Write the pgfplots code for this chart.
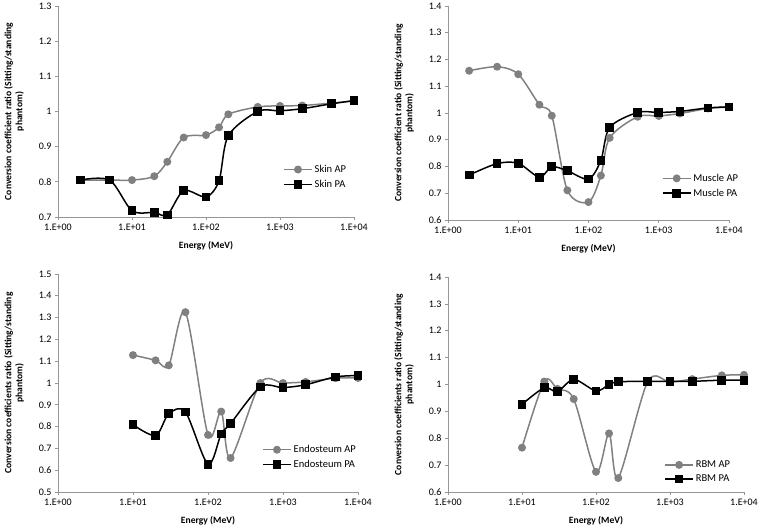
\documentclass[border=0pt]{standalone}
\usepackage{fontspec}
\setmainfont{Carlito}
\usepackage{pgfplots}
\pgfplotsset{compat=1.18}
\definecolor{apgray}{RGB}{128,128,128}
\definecolor{axgray}{RGB}{150,150,150}
\pgfplotsset{
 panel/.style={
  scale only axis, xmin=1, xmax=10000,
  axis x line=bottom, axis y line=left,
  axis line style={-, draw=axgray, line width=0.7pt},
  xtick={1,10,100,1000,10000},
  xticklabels={1.E+00,1.E+01,1.E+02,1.E+03,1.E+04},
  xminorticks=false, yminorticks=false,
  tick align=outside, major tick length=3pt,
  tick style={draw=axgray, line width=0.7pt},
  ticklabel style={font=\fontsize{10}{11}\selectfont},
  xlabel={Energy (MeV)},
  label style={font=\fontsize{9.6}{11}\selectfont\bfseries},
  ylabel style={align=center},
  ylabel shift=8pt,
  xlabel shift=4pt,
  legend style={draw=none, fill=none, font=\fontsize{10.5}{12}\selectfont,
    anchor=west, row sep=2pt, cells={anchor=west}},
  legend image code/.code={\draw[mark repeat=2,mark phase=2] plot coordinates {(0pt,0pt)(14pt,0pt)(28pt,0pt)};},
  clip=false,
 },
 ap/.style={color=apgray, line width=1.5pt, smooth, mark=*, mark size=3.2pt, mark options={solid, fill=apgray}},
 pa/.style={color=black, line width=1.5pt, smooth, mark=square*, mark size=3.6pt, mark options={solid}},
}
\begin{document}
\begin{tikzpicture}
\path[use as bounding box] (0pt,0pt) rectangle (759pt,531pt);
% Panel 1: Skin
\begin{semilogxaxis}[panel, at={(58pt,314pt)}, anchor=south west, width=296pt, height=211pt,
  ymin=0.7, ymax=1.3, ytick={0.7,0.8,0.9,1,1.1,1.2,1.3},
  yticklabels={0.7,0.8,0.9,1,1.1,1.2,1.3},
  ylabel={Conversion coefficient ratio (Sitting/standing\\phantom)},
  legend style={at={(0.75,0.19)}}]
\addplot[ap] coordinates {(2,0.805)(5,0.805)(10,0.805)(20,0.816)(30,0.857)(50,0.926)(100,0.933)(150,0.955)(200,0.992)(500,1.013)(1000,1.016)(2000,1.017)(5000,1.024)(10000,1.030)};
\addlegendentry{Skin AP}
\addplot[pa] coordinates {(2,0.805)(5,0.805)(10,0.718)(20,0.713)(30,0.706)(50,0.775)(100,0.757)(150,0.803)(200,0.931)(500,1.000)(1000,1.002)(2000,1.008)(5000,1.022)(10000,1.031)};
\addlegendentry{Skin PA}
\end{semilogxaxis}
% Panel 2: Muscle
\begin{semilogxaxis}[panel, at={(448pt,311pt)}, anchor=south west, width=281pt, height=214pt,
  ymin=0.6, ymax=1.4, ytick={0.6,0.7,0.8,0.9,1,1.1,1.2,1.3,1.4},
  yticklabels={0.6,0.7,0.8,0.9,1,1.1,1.2,1.3,1.4},
  ylabel={Conversion coefficient ratio (Sitting/standing\\phantom)},
  legend style={at={(0.75,0.16)}}]
\addplot[ap] coordinates {(2,1.158)(5,1.173)(10,1.145)(20,1.031)(30,0.990)(50,0.711)(100,0.667)(150,0.766)(200,0.907)(500,0.986)(1000,0.989)(2000,0.998)(5000,1.017)(10000,1.022)};
\addlegendentry{Muscle AP}
\addplot[pa] coordinates {(2,0.768)(5,0.811)(10,0.812)(20,0.760)(30,0.799)(50,0.784)(100,0.753)(150,0.823)(200,0.946)(500,1.002)(1000,1.002)(2000,1.006)(5000,1.019)(10000,1.023)};
\addlegendentry{Muscle PA}
\end{semilogxaxis}
% Panel 3: Endosteum
\begin{semilogxaxis}[panel, at={(58pt,39pt)}, anchor=south west, width=300pt, height=218pt,
  ymin=0.5, ymax=1.5, ytick={0.5,0.6,0.7,0.8,0.9,1,1.1,1.2,1.3,1.4,1.5},
  yticklabels={0.5,0.6,0.7,0.8,0.9,1,1.1,1.2,1.3,1.4,1.5},
  ylabel={Conversion coefficients ratio (Sitting/standing\\phantom)},
  legend style={at={(0.67,0.16)}}]
\addplot[ap] coordinates {(10,1.128)(20,1.104)(30,1.081)(50,1.325)(100,0.762)(150,0.869)(200,0.656)(500,1.000)(1000,1.000)(2000,1.005)(5000,1.022)(10000,1.023)};
\addlegendentry{Endosteum AP}
\addplot[pa] coordinates {(10,0.809)(20,0.759)(30,0.859)(50,0.867)(100,0.627)(150,0.766)(200,0.814)(500,0.982)(1000,0.979)(2000,0.992)(5000,1.028)(10000,1.034)};
\addlegendentry{Endosteum PA}
\end{semilogxaxis}
% Panel 4: RBM
\begin{semilogxaxis}[panel, at={(448pt,39pt)}, anchor=south west, width=296pt, height=215pt,
  ymin=0.6, ymax=1.4, ytick={0.6,0.7,0.8,0.9,1,1.1,1.2,1.3,1.4},
  yticklabels={0.6,0.7,0.8,0.9,1,1.1,1.2,1.3,1.4},
  ylabel={Conversion coefficients ratio (Sitting/standing\\phantom)},
  legend style={at={(0.72,0.093)}}]
\addplot[ap] coordinates {(10,0.765)(20,1.011)(30,0.984)(50,0.946)(100,0.675)(150,0.818)(200,0.652)(500,1.011)(1000,1.009)(2000,1.020)(5000,1.034)(10000,1.036)};
\addlegendentry{RBM AP}
\addplot[pa] coordinates {(10,0.926)(20,0.988)(30,0.973)(50,1.019)(100,0.976)(150,1.000)(200,1.010)(500,1.012)(1000,1.012)(2000,1.012)(5000,1.016)(10000,1.016)};
\addlegendentry{RBM PA}
\end{semilogxaxis}
\end{tikzpicture}
\end{document}
